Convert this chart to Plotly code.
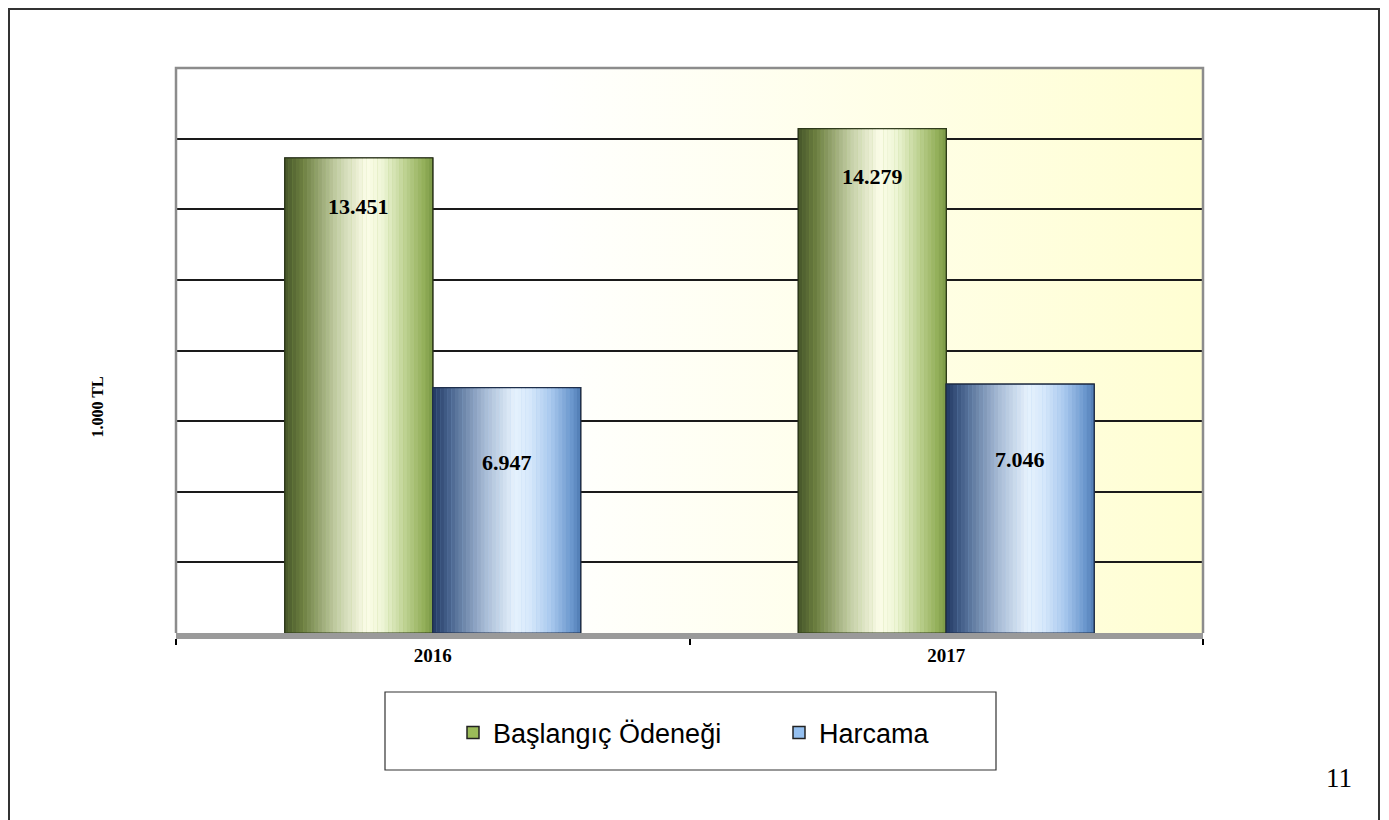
import base64
import plotly.graph_objects as go

# data (1.000 TL)
years = ["2016", "2017"]
baslangic = [13451, 14279]
harcama = [6947, 7046]
label_baslangic = ["13.451", "14.279"]
label_harcama = ["6.947", "7.046"]

# page layout (the figure sits 8px in from the page corner)
OFF = 8
W, H = 1389 - OFF, 820 - OFF
PL, PR, PT, PB = 176, 1203, 68, 633
L, R, T, B = PL - OFF, W - (PR - OFF), PT - OFF, H - (PB - OFF)

BAR_W = 0.288
N_STRIPS = 40

GREEN_STOPS = [(0.0, "#46562a"), (0.12, "#6c7f40"), (0.35, "#c4cea6"), (0.55, "#fbfde8"),
               (0.66, "#eef6d6"), (0.8, "#c2d598"), (0.94, "#93af5a"), (1.0, "#7a9846")]
BLUE_STOPS = [(0.0, "#223862"), (0.12, "#4a6690"), (0.35, "#a6bad4"), (0.55, "#e6f2fd"),
              (0.66, "#d6e8fb"), (0.8, "#a9c8ee"), (0.94, "#6a96cc"), (1.0, "#4f7bb3")]


def hex2rgb(h):
    return tuple(int(h[i:i + 2], 16) for i in (1, 3, 5))


def grad_color(stops, t):
    for (p0, c0), (p1, c1) in zip(stops, stops[1:]):
        if p0 <= t <= p1:
            f = (t - p0) / (p1 - p0)
            a, b = hex2rgb(c0), hex2rgb(c1)
            return "rgb(%d,%d,%d)" % tuple(round(a[k] + (b[k] - a[k]) * f) for k in range(3))
    return stops[-1][1]


def px_x(x):
    # page pixel -> paper
    return (x - PL) / (PR - PL)


def px_y(y):
    return 1 - (y - PT) / (PB - PT)


def cylinder(fig, name, values, offset, stops, legend_color, edge):
    # base bar gives the legend entry
    fig.add_trace(go.Bar(x=years, y=values, name=name, offset=offset, width=BAR_W,
                         marker=dict(color=legend_color, line=dict(color="#222222", width=1.5)),
                         hoverinfo="skip"))
    step = BAR_W / N_STRIPS
    for i in range(N_STRIPS):
        t = (i + 0.5) / N_STRIPS
        fig.add_trace(go.Bar(x=years, y=values, offset=offset + i * step,
                             width=step * (1.08 if i < N_STRIPS - 1 else 1.0),
                             marker=dict(color=grad_color(stops, t), line=dict(width=0)),
                             showlegend=False, hoverinfo="skip"))
    # outline on top
    fig.add_trace(go.Bar(x=years, y=values, offset=offset, width=BAR_W,
                         marker=dict(color="rgba(0,0,0,0)", line=dict(color=edge, width=1.2)),
                         showlegend=False, hoverinfo="skip"))


fig = go.Figure()
cylinder(fig, "Başlangıç Ödeneği", baslangic, -BAR_W, GREEN_STOPS, "#9bbb59", "#2c3a16")
cylinder(fig, "Harcama", harcama, 0.0, BLUE_STOPS, "#95c0f0", "#1e2f4c")

# value labels inside the cylinders
for i, yr in enumerate(years):
    fig.add_annotation(x=i - BAR_W / 2, y=baslangic[i], text="<b>%s</b>" % label_baslangic[i],
                       showarrow=False, yshift=-48, xref="x", yref="y",
                       font=dict(family="Liberation Serif", size=22, color="black"))
    fig.add_annotation(x=i + BAR_W / 2, y=harcama[i], text="<b>%s</b>" % label_harcama[i],
                       showarrow=False, yshift=-75, xref="x", yref="y",
                       font=dict(family="Liberation Serif", size=22, color="black"))

# background gradient of the plot wall
svg = ('<svg xmlns="http://www.w3.org/2000/svg" width="200" height="100" preserveAspectRatio="none">'
       '<defs><linearGradient id="g" x1="0" y1="0" x2="1" y2="0">'
       '<stop offset="0" stop-color="#ffffff"/><stop offset="0.35" stop-color="#ffffff"/>'
       '<stop offset="1" stop-color="#fffed2"/></linearGradient></defs>'
       '<rect width="200" height="100" fill="url(#g)"/></svg>')
fig.add_layout_image(source="data:image/svg+xml;base64," + base64.b64encode(svg.encode()).decode(),
                     xref="paper", yref="paper", x=0, y=1, sizex=1, sizey=1,
                     sizing="stretch", xanchor="left", yanchor="top", layer="below")

# plot wall border (left, top, right)
fig.add_shape(type="path", xref="paper", yref="paper",
              path="M 0 0 L 0 1 L 1 1 L 1 0", line=dict(color="#8c8c8c", width=2.5))
# outer frame
fig.add_shape(type="rect", xref="paper", yref="paper",
              x0=px_x(OFF + 1), x1=px_x(1379), y0=px_y(OFF + 1), y1=px_y(840),
              line=dict(color="#333333", width=2))
# legend box
fig.add_shape(type="rect", xref="paper", yref="paper",
              x0=px_x(385), x1=px_x(996), y0=px_y(692), y1=px_y(770),
              line=dict(color="#333333", width=1.2))

fig.add_annotation(text="<b>1.000 TL</b>", xref="paper", yref="paper",
                   x=px_x(86), y=px_y(407), textangle=-90, showarrow=False,
                   font=dict(family="Liberation Serif", size=16, color="black"))
fig.add_annotation(text="11", xref="paper", yref="paper",
                   x=px_x(1354), y=px_y(795), showarrow=False,
                   font=dict(family="Liberation Serif", size=27, color="black"))

fig.update_layout(
    width=W, height=H,
    margin=dict(l=L, r=R, t=T, b=B),
    paper_bgcolor="white",
    plot_bgcolor="rgba(0,0,0,0)",
    barmode="overlay",
    showlegend=True,
    legend=dict(orientation="h", x=px_x(453), y=px_y(733), xanchor="left", yanchor="middle",
                font=dict(family="Liberation Sans", size=27, color="black"),
                bgcolor="rgba(0,0,0,0)", entrywidth=281, itemwidth=30),
    xaxis=dict(type="category", tickson="boundaries", ticks="outside", ticklen=6,
               tickcolor="black", tickwidth=1.5, showline=True, linecolor="#9a9a9a",
               linewidth=6, showgrid=False,
               tickfont=dict(family="Liberation Serif", size=19, color="black"),
               tickprefix="<b>", ticksuffix="</b>", range=[-0.5, 1.5]),
    yaxis=dict(range=[0, 16000], dtick=2000, showticklabels=False, showgrid=True,
               gridcolor="#1a1a1a", gridwidth=2, zeroline=False, showline=False),
)

fig.write_html("out.html")
